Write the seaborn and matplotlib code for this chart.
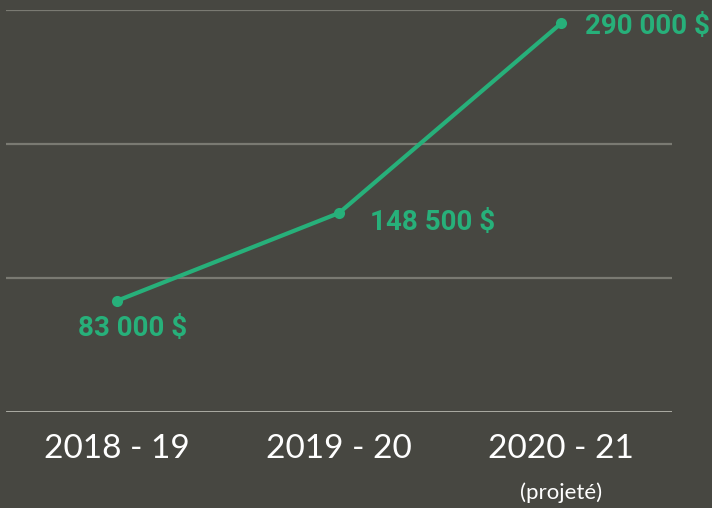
import pandas as pd
import seaborn as sns
import matplotlib.pyplot as plt

# chart values
seasons = ['2018 - 19', '2019 - 20', '2020 - 21']
revenue = [83000, 148500, 290000]
value_labels = ['83 000 $', '148 500 $', '290 000 $']

bg = '#474741'
green = '#27b07a'

sns.set_theme(style='dark')
plt.rcParams['font.family'] = ['Roboto', 'DejaVu Sans']

df = pd.DataFrame({'season': range(len(seasons)), 'revenue': revenue})

fig = plt.figure(figsize=(7.12, 5.08), dpi=100, facecolor=bg)
ax = fig.add_axes([6 / 712, 1 - 412 / 508, 666 / 712, 402 / 508])
ax.set_facecolor(bg)

# gridlines
for y in [100000, 200000, 300000]:
    ax.axhline(y, color='#7a7a72', lw=1.6, zorder=1)
ax.axhline(0, color='#b4b4ac', lw=2, zorder=1)

sns.lineplot(data=df, x='season', y='revenue', ax=ax, color=green, lw=3,
             marker='o', markersize=8, markeredgewidth=0, zorder=3)

# value labels
offsets = [(-39, -28), (31, -9), (24, -3)]
for i, (lab, off) in enumerate(zip(value_labels, offsets)):
    ax.annotate(lab, (i, revenue[i]), xytext=off, textcoords='offset pixels',
                ha='left', va='center', color=green, fontsize=20,
                fontweight='bold', family=['Roboto', 'DejaVu Sans'])

ax.set_xlim(-0.5, 2.5)
ax.set_ylim(0, 300000)
ax.set_xticks(range(len(seasons)))
ax.set_xticklabels(seasons, color='white', fontsize=24, fontweight='normal',
                   family=['Lato', 'DejaVu Sans'])
ax.tick_params(axis='x', length=0, pad=16)
ax.set_yticks([])
ax.set_xlabel('')
ax.set_ylabel('')
for s in ax.spines.values():
    s.set_visible(False)

ax.text(2, -0.2, '(projeté)', transform=ax.get_xaxis_transform(),
        ha='center', va='center', color='white', fontsize=16,
        fontweight='normal', family=['Lato', 'DejaVu Sans'])

fig.savefig('out.png', dpi=100, facecolor=bg)
